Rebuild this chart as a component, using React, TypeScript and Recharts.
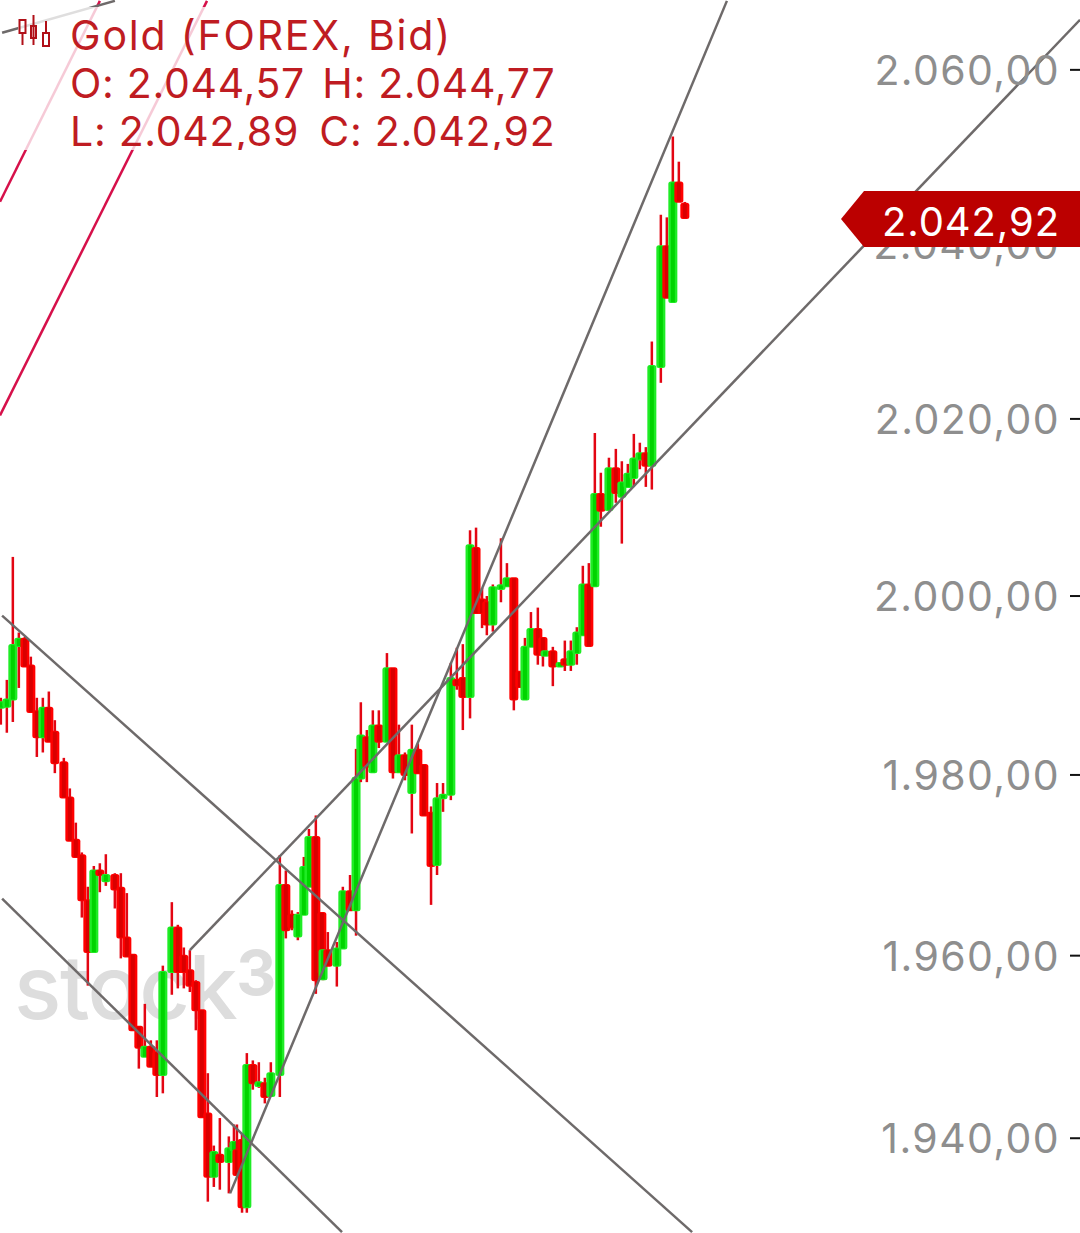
import React from 'react';
import { ComposedChart, Bar, XAxis, YAxis, ReferenceLine, ReferenceDot } from 'recharts';

// bar positions along the time axis (3 slots = one 15 min step, weekend gaps stay visible)
const slots = [
  0.3, 2.3, 4.3, 6.3, 8.3, 10.3, 12.3, 14.3, 16.3, 18.3, 21.3, 23.3, 25.3, 27.3, 29.3, 31.3, 33.3, 35.3, 38.3, 40.3,
  42.3, 44.3, 46.3, 48.3, 50.3, 52.3, 54.3, 57.3, 59.3, 61.3, 63.3, 65.3, 67.3, 69.3, 71.3, 73.3, 76.3, 78, 79, 80.7,
  82.3, 84.3, 86.3, 88.3, 90.3, 93.3, 95.3, 97.3, 99.3, 101.3, 103, 105.3, 107.3, 107.7, 109.3, 112.3, 114.3, 116.7, 118.7, 120.3,
  122.3, 124.3, 126.3, 129, 131, 133, 135, 137.3, 139.3, 141.3, 143.7, 145.7, 147.7, 150.3, 152.3, 154.3, 156.7, 158.7, 160.7, 162.3,
  164.3, 167, 169, 171.3, 173.3, 175, 177, 179.3, 181, 181.7, 184.3, 186.7, 188.3, 190.3, 192.3, 194.3, 196.3, 198.3, 200.3, 203,
  205.3, 207.3, 209.3, 211.3, 213.3, 215.3, 217.3, 220.3, 222.3, 224.3, 226.3, 228.3,
];

const opens = [
  1987.5, 1987.6, 1988.4, 1994.4, 1995.2, 1992.2, 1987.1, 1984.2, 1987.5, 1984.8,
  1981.4, 1977.5, 1972.8, 1971.1, 1966.1, 1960.4, 1969.4, 1968.2, 1968.9, 1967.5,
  1962.0, 1960.1, 1952.2, 1948.9, 1950.0, 1949.4, 1946.9, 1958.2, 1963.1, 1960.0,
  1958.4, 1957.1, 1954.0, 1942.7, 1935.8, 1938.2, 1937.4, 1938.7, 1938.7, 1939.8,
  1932.5, 1948.0, 1945.7, 1946.0, 1944.6, 1946.9, 1967.8, 1964.5, 1962.1, 1964.5,
  1967.6, 1973.1, 1964.7, 1957.4, 1960.6, 1958.9, 1960.8, 1967.1, 1965.0, 1979.6,
  1984.2, 1980.3, 1985.5, 1983.7, 1991.9, 1980.3, 1982.2, 1978.0, 1982.8, 1981.1,
  1975.8, 1970.0, 1977.4, 1977.8, 1990.6, 1990.8, 1988.7, 2005.4, 1999.6, 1999.3,
  1996.8, 2000.8, 2001.1, 2002.0, 1991.5, 1988.4, 1994.3, 1996.3, 1995.3, 1993.3,
  1993.8, 1992.1, 1992.9, 1992.3, 1993.6, 1995.6, 2001.3, 2001.1, 2011.5, 2009.7,
  2014.4, 2011.2, 2012.3, 2013.3, 2015.4, 2016.1, 2014.7, 2025.9, 2039.7, 2033.3,
  2047.0, 2044.57,
];

const highs = [
  1988.6, 1990.6, 2004.4, 1995.9, 1995.4, 1993.2, 1988.6, 1988.6, 1989.3, 1986.1,
  1981.9, 1978.5, 1974.7, 1971.4, 1967.6, 1969.9, 1970.2, 1971.2, 1969.1, 1969.1,
  1966.9, 1960.1, 1952.2, 1954.7, 1950.7, 1950.7, 1958.9, 1965.9, 1963.4, 1960.9,
  1960.6, 1957.3, 1954.0, 1947.1, 1939.2, 1942.2, 1940.2, 1941.5, 1941.5, 1940.5,
  1949.3, 1948.5, 1948.3, 1946.6, 1948.3, 1971.1, 1969.4, 1965.0, 1964.8, 1970.9,
  1974.0, 1975.5, 1964.7, 1960.6, 1962.6, 1961.5, 1967.6, 1968.9, 1982.9, 1988.1,
  1985.0, 1987.2, 1987.2, 1993.6, 1991.9, 1985.6, 1982.5, 1985.6, 1983.5, 1981.1,
  1976.5, 1979.1, 1979.1, 1992.5, 1994.2, 1994.6, 2007.4, 2007.7, 2000.9, 2000.0,
  2001.3, 2006.5, 2003.7, 2002.0, 1991.5, 1995.3, 1998.2, 1998.7, 1995.3, 1993.8,
  1994.3, 1992.5, 1995.0, 1995.0, 1996.5, 2003.4, 2003.7, 2018.4, 2013.9, 2015.6,
  2016.6, 2015.2, 2014.9, 2018.3, 2017.3, 2016.8, 2028.8, 2043.3, 2043.0, 2052.3,
  2049.4, 2044.77,
];

const lows = [
  1985.6, 1984.7, 1985.9, 1989.7, 1992.1, 1987.0, 1982.0, 1982.5, 1983.7, 1980.2,
  1977.5, 1972.7, 1970.9, 1964.2, 1956.7, 1960.4, 1967.0, 1967.7, 1965.2, 1959.7,
  1959.9, 1951.8, 1947.6, 1948.9, 1947.8, 1944.5, 1944.9, 1955.7, 1956.4, 1956.4,
  1956.0, 1951.8, 1942.3, 1933.1, 1934.7, 1934.4, 1934.0, 1938.7, 1936.0, 1931.9,
  1931.9, 1945.3, 1945.5, 1943.8, 1944.5, 1944.5, 1961.9, 1962.8, 1961.7, 1964.5,
  1967.6, 1955.8, 1957.8, 1957.3, 1958.9, 1956.6, 1960.8, 1965.0, 1962.2, 1979.2,
  1979.2, 1980.3, 1983.0, 1983.7, 1979.6, 1980.3, 1979.4, 1973.5, 1980.2, 1975.5,
  1965.6, 1968.9, 1975.9, 1977.2, 1989.5, 1985.0, 1986.3, 1998.1, 1996.4, 1995.6,
  1996.0, 1999.3, 2001.1, 1987.2, 1989.8, 1988.4, 1994.3, 1992.3, 1992.1, 1993.3,
  1989.9, 1992.1, 1991.6, 1991.6, 1992.3, 1995.6, 1994.4, 2001.1, 2007.8, 2009.7,
  2010.5, 2005.9, 2012.3, 2012.4, 2014.3, 2012.3, 2012.0, 2024.1, 2033.8, 2033.3,
  2044.8, 2042.89,
];

const closes = [
  1988.1, 1988.4, 1994.5, 1995.2, 1992.1, 1987.0, 1984.2, 1987.5, 1983.7, 1981.3,
  1977.5, 1972.7, 1970.9, 1966.1, 1960.4, 1969.4, 1968.9, 1968.9, 1967.3, 1962.0,
  1959.9, 1951.8, 1949.9, 1950.0, 1947.8, 1946.9, 1958.2, 1963.1, 1958.2, 1958.2,
  1956.7, 1954.0, 1942.3, 1935.8, 1938.5, 1937.4, 1938.9, 1939.6, 1936.0, 1932.5,
  1948.0, 1946.0, 1946.1, 1944.5, 1947.1, 1967.8, 1962.8, 1963.1, 1964.5, 1969.8,
  1973.1, 1957.3, 1958.1, 1960.6, 1958.9, 1960.8, 1967.1, 1965.0, 1979.7, 1984.4,
  1980.9, 1985.5, 1983.7, 1991.9, 1980.3, 1982.2, 1980.0, 1982.8, 1980.2, 1975.5,
  1969.9, 1977.4, 1977.8, 1990.8, 1990.0, 1988.7, 2005.7, 1998.1, 1998.1, 1996.8,
  2001.0, 2001.2, 2002.0, 1988.4, 1989.8, 1994.3, 1996.3, 1993.4, 1993.4, 1993.8,
  1992.1, 1992.5, 1992.3, 1993.8, 1995.9, 2001.3, 1994.4, 2011.5, 2009.6, 2014.4,
  2011.6, 2012.8, 2013.8, 2015.5, 2016.1, 2014.7, 2026.0, 2039.7, 2033.8, 2047.0,
  2044.8, 2042.92,
];

const priceTicks = [1940, 1960, 1980, 2000, 2020, 2040, 2060];
const priceDomain = [1929.7, 2068.1];

// trend lines: [slot, price, slot, price]
const grayLines = [
  [0.7, 1997.8, 230.7, 1929.8],
  [0.7, 1966.3, 114, 1929.8],
  [63.3, 1960.6, 360, 2065.8],
  [76.7, 1934.0, 242.3, 2068.0],
  [0.7, 2064.3, 38.3, 2068.0],
];
const crimsonLines = [
  [0, 2044.8, 33.3, 2068.0],
  [0, 2020.4, 69, 2068.0],
];

const lastPrice = closes[closes.length - 1];

const chartData = slots.map((slot, i) => ({
  slot,
  open: opens[i],
  high: highs[i],
  low: lows[i],
  close: closes[i],
  range: [lows[i], highs[i]],
}));

const formatPrice = (v: number) =>
  v.toLocaleString('de-DE', { minimumFractionDigits: 2, maximumFractionDigits: 2 });

const FONT = 'Inter, "Liberation Sans", sans-serif';

const Candle = (props: any) => {
  const { x, y, width, height, payload } = props;
  const { open, high, low, close } = payload;
  const cx = x + width / 2;
  // the axis is logarithmic, so map open and close the same way inside the bar
  const toY = (p: number) => y + (height * (Math.log(high) - Math.log(p))) / (Math.log(high) - Math.log(low));
  const top = toY(Math.max(open, close));
  const bottom = toY(Math.min(open, close));
  const up = close >= open;
  return (
    <g>
      <rect x={cx - 1.25} y={y} width={2.5} height={height} fill="#e30613" />
      <rect x={cx - 4.5} y={top - 1} width={9} height={bottom - top + 2} rx={2.5} fill={up ? '#1fec25' : '#ff0000'} />
      <rect x={cx - 2} y={top} width={4} height={bottom - top} fill={up ? '#00d400' : '#d90000'} />
    </g>
  );
};

const PriceTick = (props: any) => {
  const { y, payload } = props;
  return (
    <g>
      <text x={1060} y={y + 15} textAnchor="end" fontFamily={FONT} fontSize={41} letterSpacing={1.4} fill="#8e8e8e">
        {formatPrice(payload.value)}
      </text>
      <line x1={1070} x2={1080} y1={y} y2={y} stroke="#111" strokeWidth={2} />
    </g>
  );
};

const PriceTag = (props: any) => {
  const { cy } = props;
  return (
    <g>
      <polygon
        points={`841,${cy + 1} 864,${cy - 27} 1080,${cy - 27} 1080,${cy + 29} 864,${cy + 29}`}
        fill="#bb0000"
      />
      <text x={1060} y={cy + 18} textAnchor="end" fontFamily={FONT} fontSize={40} letterSpacing={0.9} fill="#fff">
        {formatPrice(lastPrice)}
      </text>
    </g>
  );
};

const LegendIcon = () => (
  <svg width={34} height={34} style={{ position: 'absolute', left: 0, top: 8 }} viewBox="0 0 34 34">
    <g fill="none" stroke="#b01018" strokeWidth={2}>
      <rect x={1.5} y={5} width={6} height={13} />
      <line x1={4.5} x2={4.5} y1={18} y2={30} />
      <rect x={13} y={11} width={5} height={12} />
      <line x1={15.5} x2={15.5} y1={0} y2={30} />
      <rect x={25} y={18} width={6} height={13} />
      <line x1={28} x2={28} y1={6} y2={18} />
    </g>
  </svg>
);

export default function App() {
  return (
    <div style={{ position: 'absolute', left: 0, top: 0, width: 1080, height: 1233, overflow: 'hidden', background: '#fff' }}>
      {/* watermark sits under the chart */}
      <div style={{ position: 'absolute', left: 14, top: 932, fontFamily: 'Inter, sans-serif', fontWeight: 500, fontSize: 88, letterSpacing: -1.5, color: '#dddddd', lineHeight: '110px', whiteSpace: 'pre' }}>
        stock<span style={{ fontSize: 62, fontWeight: 700, position: 'relative', top: -24 }}>3</span>
      </div>
      <div style={{ position: 'absolute', left: 0, top: 0 }}>
        <ComposedChart width={1080} height={1233} data={chartData} margin={{ top: 0, right: 0, bottom: 0, left: 0 }}>
          <XAxis type="number" dataKey="slot" domain={[0, 360]} hide />
          <YAxis
            orientation="right"
            mirror
            width={60}
            scale="log"
            domain={priceDomain}
            allowDataOverflow
            ticks={priceTicks}
            interval={0}
            axisLine={false}
            tickLine={false}
            tick={<PriceTick />}
          />
          <Bar dataKey="range" barSize={8} shape={<Candle />} isAnimationActive={false} />
          {crimsonLines.map((l, i) => (
            <ReferenceLine
              key={`c-${i}`}
              segment={[{ x: l[0], y: l[1] }, { x: l[2], y: l[3] }]}
              stroke="#d6104a"
              strokeWidth={2.5}
              ifOverflow="visible"
            />
          ))}
          {grayLines.map((l, i) => (
            <ReferenceLine
              key={`g-${i}`}
              segment={[{ x: l[0], y: l[1] }, { x: l[2], y: l[3] }]}
              stroke="#6e6a6a"
              strokeWidth={2.5}
              ifOverflow="visible"
            />
          ))}
        </ComposedChart>
      </div>
      {/* the price tag covers the axis labels, so it gets its own chart layer on the same scales */}
      <div style={{ position: 'absolute', left: 0, top: 0 }}>
        <ComposedChart width={1080} height={1233} data={chartData} margin={{ top: 0, right: 0, bottom: 0, left: 0 }}>
          <XAxis type="number" dataKey="slot" domain={[0, 360]} hide />
          <YAxis hide orientation="right" mirror width={60} scale="log" domain={priceDomain} allowDataOverflow />
          <ReferenceDot x={300} y={lastPrice} r={1} ifOverflow="visible" shape={<PriceTag />} />
        </ComposedChart>
      </div>
      {/* OHLC legend, its white backing fades whatever runs behind it */}
      <div style={{ position: 'absolute', left: 18, top: 7, width: 537, height: 143, overflow: 'hidden', background: 'rgba(255,255,255,0.78)' }}>
        <LegendIcon />
        <div style={{ position: 'absolute', left: 52, top: 4, fontFamily: FONT, fontSize: 41, letterSpacing: 0.7, lineHeight: '48px', color: '#bf1c22', whiteSpace: 'pre' }}>
          <div style={{ letterSpacing: 1.8 }}>Gold (FOREX, Bid)</div>
          <div>O: 2.044,57 <span style={{ marginLeft: 5 }}>H: 2.044,77</span></div>
          <div>L: 2.042,89 <span style={{ marginLeft: 8 }}>C: 2.042,92</span></div>
        </div>
      </div>
    </div>
  );
}
